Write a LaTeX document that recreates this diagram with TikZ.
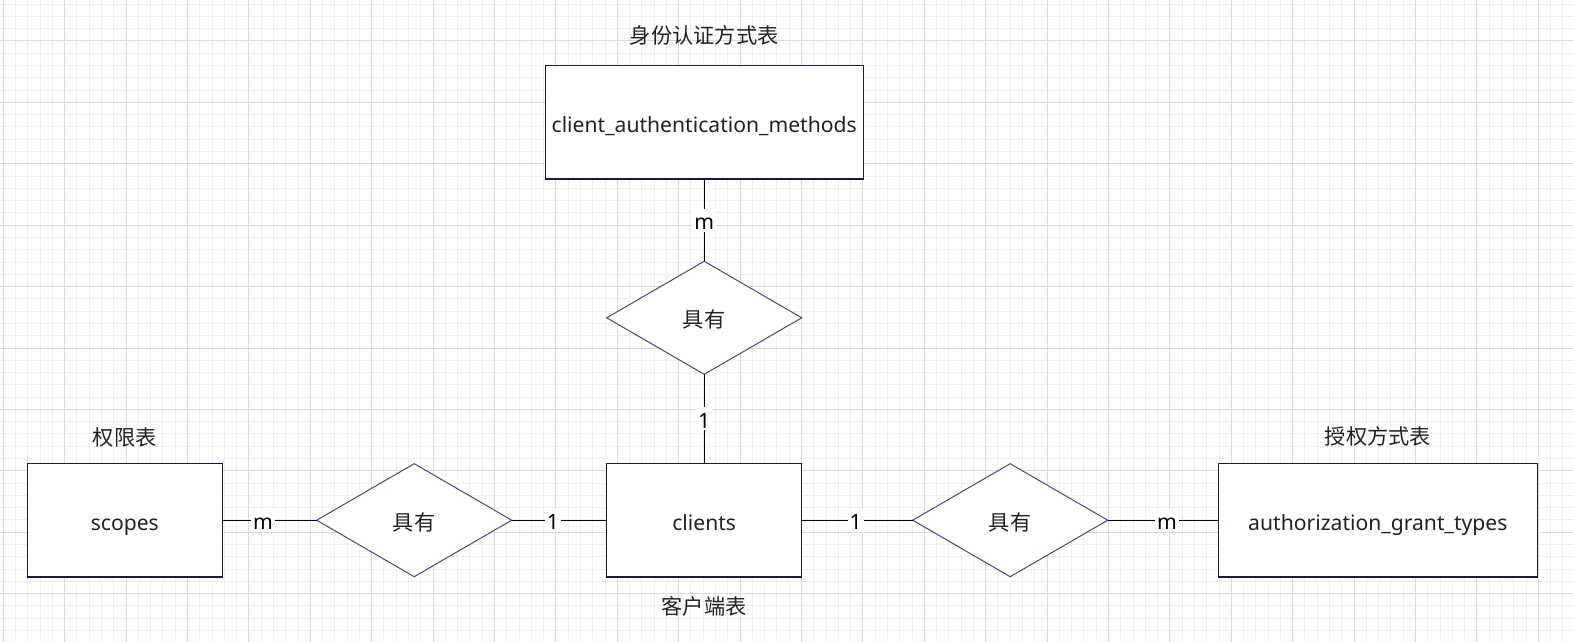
\documentclass[tikz,border=0pt]{standalone}
\usepackage{fontspec}
\setmainfont{Noto Sans}
\newfontfamily\cjk{Noto Sans CJK SC}
\usepackage{tikz}
\usetikzlibrary{shapes.geometric}
\definecolor{boxline}{HTML}{1B1B3F}
\definecolor{diamline}{HTML}{4A4A6E}
\definecolor{gridminor}{HTML}{EFEFEF}
\definecolor{gridmajor}{HTML}{DADADA}
\definecolor{inktext}{HTML}{222222}
\tikzstyle{entity}=[draw=boxline, line width=0.65bp, fill=white, text=inktext, minimum height=56.85bp, inner sep=0pt, outer sep=0pt, text height=9.8bp, text depth=0pt]
\tikzstyle{relation}=[diamond, draw=diamline, line width=0.5bp, fill=white, text=inktext, font=\cjk\fontsize{10.65pt}{12pt}\selectfont, minimum width=97.5bp, minimum height=56.5bp, inner sep=0pt, outer sep=0pt, text height=9.8bp, text depth=0pt]
\tikzstyle{card}=[fill=white, inner sep=1pt, text=black, text height=9.4bp, text depth=0pt]
\tikzstyle{title}=[text=inktext, font=\cjk\fontsize{10.65pt}{12pt}\selectfont]

\begin{document}
\begin{tikzpicture}[x=0.5bp,y=-0.5bp,font=\fontsize{10.6pt}{12pt}\selectfont]
      \useasboundingbox (0,0) rectangle (1573,642);
      \fill[white] (0,0) rectangle (1573,642);
      % grid
      \foreach \i in {0,...,128} \draw[gridminor, line width=0.5bp] (3.3+\i*12.28,0) -- (3.3+\i*12.28,642);
      \foreach \i in {0,...,52} \draw[gridminor, line width=0.5bp] (0,4.16+\i*12.28) -- (1573,4.16+\i*12.28);
      \foreach \i in {0,...,25} \draw[gridmajor, line width=0.5bp] (3.3+\i*61.4,0) -- (3.3+\i*61.4,642);
      \foreach \i in {0,...,11} \draw[gridmajor, line width=0.5bp] (0,-20.4+\i*61.4) -- (1573,-20.4+\i*61.4);
      % entities and relations
      \node [entity, minimum width=97.5bp] (clients) at (704.2,520.2) {clients};
      \node [relation] (hasmethod) [above of=clients, node distance=101.2bp] {具有};
      \node [entity, minimum width=159bp] (methods) [above of=hasmethod, node distance=97.75bp] {client\_authentication\_methods};
      \node [relation] (hasscope) [left of=clients, node distance=145bp] {具有};
      \node [entity, minimum width=97.5bp] (scopes) [left of=hasscope, node distance=144.7bp] {scopes};
      \node [relation] (hasgrant) [right of=clients, node distance=153bp] {具有};
      \node [entity, minimum width=159.5bp] (grants) [right of=hasgrant, node distance=183.8bp] {authorization\_grant\_types};
      % table names
      \node [title] (methodsname) [above of=methods, node distance=43.25bp] {身份认证方式表};
      \node [title] (scopesname) [above of=scopes, node distance=41.6bp] {权限表};
      \node [title] (clientsname) [below of=clients, node distance=43.25bp] {客户端表};
      \node [title] (grantsname) [above of=grants, node distance=41.75bp] {授权方式表};
      % connectors
      \draw[line width=0.5bp] (methods) -- node[card] {m} (hasmethod);
      \draw[line width=0.5bp] (hasmethod) -- node[card] {1} (clients);
      \draw[line width=0.5bp] (scopes) -- node[card, pos=0.43] {m} (hasscope);
      \draw[line width=0.5bp] (hasscope) -- node[card, pos=0.435] {1} (clients);
      \draw[line width=0.5bp] (clients) -- node[card, pos=0.487] {1} (hasgrant);
      \draw[line width=0.5bp] (hasgrant) -- node[card, pos=0.536] {m} (grants);
  \end{tikzpicture}
\end{document}
